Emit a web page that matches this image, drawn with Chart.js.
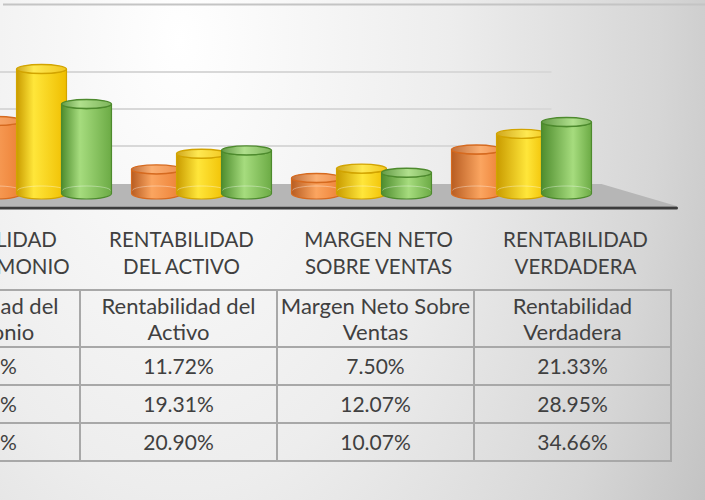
<!DOCTYPE html>
<html>
<head>
<meta charset="utf-8">
<script src="https://cdn.jsdelivr.net/npm/chart.js@4.4.1/dist/chart.umd.min.js"></script>
<style>
  html, body { margin: 0; padding: 0; }
  #wrap {
    position: relative; width: 705px; height: 500px; overflow: hidden;
    background: radial-gradient(ellipse 600px 1000px at 180px 40px, #ffffff 0%, #ededed 45%, #d6d6d6 80%, #c2c2c2 100%);
    font-family: Lato, 'Noto Sans', sans-serif; color: #404040;
  }
  #chart { position: absolute; left: -200px; top: 0; }
  #heads { position: absolute; left: -114px; top: 226px; display: flex; }
  #heads div { width: 197px; text-align: center; font-size: 20.5px; line-height: 27px; }
  #tbl {
    position: absolute; left: -118px; top: 289px;
    border-collapse: collapse; table-layout: fixed; width: 788px;
  }
  #tbl td {
    border: 2px solid #a8a8a8; text-align: center; font-size: 21px;
    padding: 0; line-height: 26px; white-space: nowrap; overflow: hidden;
  }
  #tbl tr.hd td { height: 55px; font-size: 22px; }
  #tbl tr.val td { height: 36px; }
</style>
</head>
<body>
<div id="wrap">
  <canvas id="chart" width="905" height="215"></canvas>
  <div id="heads"></div>
  <table id="tbl"><colgroup><col style="width:197px"><col style="width:197px"><col style="width:197px"><col style="width:197px"></colgroup></table>
</div>
<script>
const categories = [
    ['RENTABILIDAD', 'DEL PATRIMONIO'],
    ['RENTABILIDAD', 'DEL ACTIVO'],
    ['MARGEN NETO', 'SOBRE VENTAS'],
    ['RENTABILIDAD', 'VERDADERA']
];
const tableHeaders = [
    ['Rentabilidad del', 'Patrimonio'],
    ['Rentabilidad del', 'Activo'],
    ['Margen Neto Sobre', 'Ventas'],
    ['Rentabilidad', 'Verdadera']
];
const seriesNames = ['Serie 1', 'Serie 2', 'Serie 3'];
const serie1 = [35.2, 11.72, 7.50, 21.33];
const serie2 = [60.4, 19.31, 12.07, 28.95];
const serie3 = [43.4, 20.90, 10.07, 34.66];
const wallTicks = [20, 40, 60];

// dark edge, highlight, right edge, rim
const palettes = [
    ['#b85d22', '#fba560', '#ec8035', '#d66a1f'],
    ['#c99b00', '#ffe63a', '#efbe00', '#d2a400'],
    ['#4f8d2e', '#a6dc7e', '#6cab45', '#4d8a2d']
];

const SHIFT = 200; // canvas sits this far left of the page edge

function drawCylinder(ctx, area, bar, pal) {
    const rx = bar.width / 2;
    const ryT = 4.5, ryB = 5.5;
    const x = bar.x, top = bar.y, base = bar.base;
    const lightPos = 0.3 + 0.35 * ((x - area.left) / area.width);

    const grad = ctx.createLinearGradient(x - rx, 0, x + rx, 0);
    grad.addColorStop(0, pal[0]);
    grad.addColorStop(lightPos, pal[1]);
    grad.addColorStop(1, pal[2]);

    // body
    ctx.beginPath();
    ctx.moveTo(x - rx, top);
    ctx.lineTo(x - rx, base);
    ctx.ellipse(x, base, rx, ryB, 0, Math.PI, 0, true);
    ctx.lineTo(x + rx, top);
    ctx.ellipse(x, top, rx, ryT, 0, 0, Math.PI, false);
    ctx.closePath();
    ctx.fillStyle = grad;
    ctx.fill();
    ctx.lineWidth = 1.2;
    ctx.strokeStyle = pal[3];
    ctx.stroke();

    // back half of the bottom ring, seen through the glass
    ctx.beginPath();
    ctx.ellipse(x, base - 3, rx - 1, ryB - 1, 0, Math.PI, 0, false);
    ctx.strokeStyle = 'rgba(255,255,255,0.35)';
    ctx.lineWidth = 1;
    ctx.stroke();

    // top cap
    ctx.beginPath();
    ctx.ellipse(x, top, rx, ryT, 0, 0, Math.PI * 2);
    ctx.fillStyle = grad;
    ctx.fill();
    ctx.fillStyle = 'rgba(255,255,255,0.12)';
    ctx.fill();
    ctx.lineWidth = 1.4;
    ctx.strokeStyle = pal[3];
    ctx.stroke();
}

const scenePlugin = {
    id: 'scene',
    beforeDraw(chart) {
        const ctx = chart.ctx;
        const area = chart.chartArea;
        const y = chart.scales.y, wall = chart.scales.wall;
        ctx.save();

        // top edge of the back wall
        ctx.strokeStyle = '#c4c4c4';
        ctx.lineWidth = 2;
        ctx.beginPath();
        ctx.moveTo(SHIFT + 3, 4.5);
        ctx.lineTo(chart.width, 4.5);
        ctx.stroke();

        // wall gridlines
        ctx.strokeStyle = '#d8d8d8';
        ctx.lineWidth = 2;
        wallTicks.forEach(v => {
            const py = wall.getPixelForValue(v);
            ctx.beginPath();
            ctx.moveTo(SHIFT, py);
            ctx.lineTo(area.right - 50, py);
            ctx.stroke();
        });

        // floor slab
        const backY = wall.getPixelForValue(0) + 1;
        const frontY = y.getPixelForValue(0) + 12.5;
        ctx.fillStyle = '#b6b6b6';
        ctx.beginPath();
        ctx.moveTo(SHIFT - 10, backY);
        ctx.lineTo(area.right, backY);
        ctx.lineTo(area.right + 75, frontY);
        ctx.lineTo(SHIFT - 10, frontY);
        ctx.closePath();
        ctx.fill();

        ctx.strokeStyle = '#3c3c3c';
        ctx.lineWidth = 3;
        ctx.lineCap = 'round';
        ctx.beginPath();
        ctx.moveTo(SHIFT - 10, frontY + 2);
        ctx.lineTo(area.right + 75, frontY + 2);
        ctx.stroke();
        ctx.restore();
    },
    beforeDatasetsDraw(chart) {
        const ctx = chart.ctx;
        ctx.save();
        chart.data.datasets.forEach((ds, i) => {
            chart.getDatasetMeta(i).data.forEach(bar => {
                drawCylinder(ctx, chart.chartArea, bar, palettes[i]);
            });
        });
        ctx.restore();
        return false;
    }
};

new Chart(document.getElementById('chart'), {
    type: 'bar',
    data: {
        labels: categories,
        datasets: [
            { label: seriesNames[0], data: serie1, backgroundColor: palettes[0][2] },
            { label: seriesNames[1], data: serie2, backgroundColor: palettes[1][2] },
            { label: seriesNames[2], data: serie3, backgroundColor: palettes[2][2] }
        ]
    },
    options: {
        responsive: false,
        animation: false,
        layout: { padding: { left: 161.5, right: 103.5, top: 8, bottom: 21.5 } },
        categoryPercentage: 0.84375,
        barPercentage: 1.11,
        plugins: { legend: { display: false }, tooltip: { enabled: false } },
        scales: {
            x: { display: false },
            y: { display: false, min: 0, max: 90 },
            wall: { display: false, position: 'left', min: -5.68, max: 94.6 }
        }
    },
    plugins: [scenePlugin]
});

// category headings and data table under the plot
const heads = document.getElementById('heads');
categories.forEach(lines => {
    const d = document.createElement('div');
    d.innerHTML = lines.join('<br>');
    heads.appendChild(d);
});

const tbl = document.getElementById('tbl');
const hr = document.createElement('tr');
hr.className = 'hd';
tableHeaders.forEach(lines => {
    const td = document.createElement('td');
    td.innerHTML = lines.join('<br>');
    hr.appendChild(td);
});
tbl.appendChild(hr);
[serie1, serie2, serie3].forEach(values => {
    const tr = document.createElement('tr');
    tr.className = 'val';
    values.forEach(v => {
        const td = document.createElement('td');
        td.textContent = v.toFixed(2) + '%';
        tr.appendChild(td);
    });
    tbl.appendChild(tr);
});
</script>
</body>
</html>
